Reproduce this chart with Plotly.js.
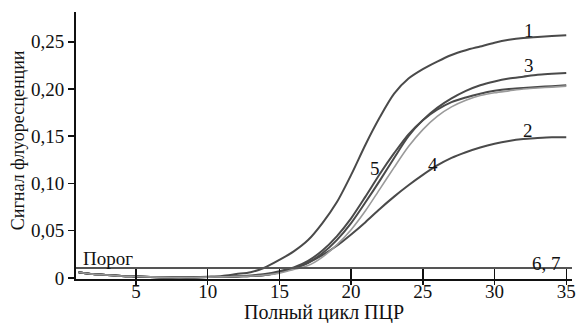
<!DOCTYPE html>
<html>
<head>
<meta charset="utf-8">
<script src="https://cdn.plot.ly/plotly-3.0.1.min.js"></script>
<style>html,body{margin:0;padding:0;background:#fff;}#chart{width:580px;height:323px;}</style>
</head>
<body>
<div id="chart"></div>
<script>
// PCR cycles
const cycles = [1,2,3,4,5,6,7,8,9,10,11,12,13,14,15,16,17,18,19,20,21,22,23,24,25,26,27,28,29,30,31,32,33,34,35];
// Fluorescence signal, curves 1..5
const curve1 = [0.006,0.004,0.003,0.002,0.0015,0.001,0.0005,0.0003,0.0006,0.0012,0.002,0.004,0.006,0.011,0.019,0.028,0.040,0.058,0.080,0.109,0.141,0.170,0.195,0.211,0.221,0.229,0.236,0.241,0.245,0.249,0.252,0.254,0.255,0.256,0.257];
const curve2 = [0.006,0.004,0.003,0.002,0.0015,0.001,0.0005,0.0003,0.0004,0.0008,0.001,0.0015,0.002,0.003,0.006,0.010,0.016,0.024,0.034,0.046,0.059,0.073,0.086,0.098,0.109,0.119,0.127,0.133,0.138,0.142,0.145,0.147,0.148,0.1488,0.149];
const curve3 = [0.006,0.004,0.003,0.002,0.0015,0.001,0.0005,0.0003,0.0004,0.0008,0.001,0.0015,0.002,0.003,0.006,0.010,0.016,0.026,0.040,0.058,0.080,0.103,0.127,0.150,0.167,0.180,0.190,0.198,0.204,0.208,0.211,0.213,0.215,0.216,0.217];
const curve4 = [0.006,0.004,0.003,0.002,0.0015,0.001,0.0005,0.0003,0.0004,0.0008,0.001,0.0015,0.002,0.003,0.005,0.009,0.013,0.022,0.035,0.051,0.071,0.094,0.117,0.139,0.157,0.171,0.181,0.188,0.193,0.196,0.198,0.200,0.201,0.202,0.203];
const curve5 = [0.006,0.004,0.003,0.002,0.0015,0.001,0.0005,0.0003,0.0004,0.0008,0.001,0.0015,0.0025,0.004,0.007,0.011,0.018,0.029,0.044,0.063,0.086,0.110,0.132,0.152,0.167,0.178,0.186,0.191,0.195,0.198,0.200,0.201,0.202,0.203,0.204];
const threshold = 0.0105;
const yTickVals = [0,0.05,0.10,0.15,0.20,0.25];
const yTickText = ['0','0,05','0,10','0,15','0,20','0,25'];
const xTickVals = [5,10,15,20,25,30,35];
const xTitle = 'Полный цикл ПЦР';
const yTitle = 'Сигнал флуоресценции';
// curve labels
const labelText = ['1','3','2','4','5','6, 7','Порог'];
const labelX = [32.4,32.4,32.3,25.7,21.7,33.6,1.2];
const labelY = [0.262,0.225,0.156,0.120,0.1155,0.015,0.021];

const dark = '#4a4a4a';
const mk = (y,color,w) => ({x:cycles,y:y,type:'scatter',mode:'lines',line:{color:color,width:w,shape:'spline',smoothing:0.8},hoverinfo:'skip',showlegend:false});
const traces = [
  mk(curve1,dark,2), mk(curve2,dark,2), mk(curve3,dark,2), mk(curve5,dark,2), mk(curve4,'#9a9a9a',1.6),
  {x:[cycles[0]],y:[0],xaxis:'x2',yaxis:'y',type:'scatter',mode:'markers',marker:{opacity:0},hoverinfo:'skip',showlegend:false}
];
const fam = '"Liberation Serif", "Times New Roman", serif';
const fnt = {family:fam, size:19, color:'#111'};
const annotations = labelText.map((t,i)=>({
  text:t, x:labelX[i], y:labelY[i], xref:'x', yref:'y', showarrow:false,
  xanchor: i===6 ? 'left' : 'center', yanchor:'middle', font:fnt
}));
annotations.push({text:xTitle, xref:'paper', yref:'paper', x:0.5, y:0, yshift:-33, xanchor:'center', yanchor:'middle', showarrow:false, font:{family:fam, size:20, color:'#111'}});
annotations.push({text:yTitle, xref:'paper', yref:'paper', x:0, y:0.52, xshift:-58, xanchor:'center', yanchor:'middle', textangle:-90, showarrow:false, font:{family:fam, size:18, color:'#111'}});
const xr = [0.82,35.4], yr = [-0.0012,0.2815];
const layout = {
  width:580, height:323,
  margin:{l:76,r:8,t:12,b:44},
  paper_bgcolor:'#fff', plot_bgcolor:'#fff',
  font:fnt,
  showlegend:false,
  xaxis:{range:xr, tickvals:xTickVals, ticks:'inside', ticklen:10, tickwidth:1.5, tickcolor:'#111',
         showline:true, linecolor:'#111', linewidth:2, showgrid:false, zeroline:false,
         tickfont:fnt, ticklabelstandoff:-6},
  xaxis2:{range:xr, overlaying:'x', anchor:'y', side:'bottom', tickvals:xTickVals, ticks:'outside', ticklen:5, tickwidth:1.5, tickcolor:'#111',
          showticklabels:false, showline:false, showgrid:false, zeroline:false},
  yaxis:{range:yr, tickvals:yTickVals, ticktext:yTickText, ticks:'outside', ticklen:6, tickwidth:1.5, tickcolor:'#111',
         showline:true, linecolor:'#111', linewidth:2, showgrid:false, zeroline:false,
         tickfont:fnt},
  shapes:[{type:'line', xref:'paper', x0:0, x1:1, yref:'y', y0:threshold, y1:threshold, line:{color:'#555', width:2}}],
  annotations:annotations
};
Plotly.newPlot('chart', traces, layout, {staticPlot:true, displayModeBar:false});
</script>
</body>
</html>
